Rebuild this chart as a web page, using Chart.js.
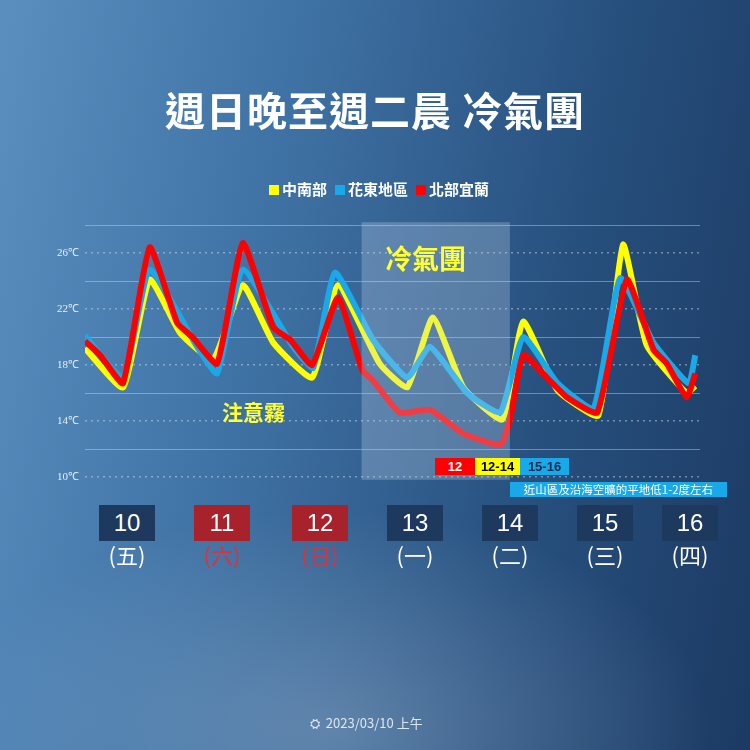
<!DOCTYPE html>
<html><head><meta charset="utf-8">
<script src="https://cdn.jsdelivr.net/npm/chart.js@4"></script>
<style>
body{margin:0;width:750px;height:750px;overflow:hidden;font-family:"Noto Sans CJK TC","Noto Sans",sans-serif;
 background:radial-gradient(ellipse 380px 220px at 330px 730px,rgba(180,198,220,0.35),rgba(180,198,220,0) 100%),
 linear-gradient(100deg,#5a8fc0 0%,#3f72a4 35%,#27507e 70%,#1c3a63 100%);}
#wrap{position:absolute;left:0;top:0;width:750px;height:750px}
.t{position:absolute;color:#fff;white-space:nowrap}
.day{position:absolute;top:505px;width:56px;height:36px;background:#1d3a5e;color:#fff;font:500 24px "Liberation Sans",sans-serif;text-align:center;line-height:36px}
.wk{position:absolute;top:538px;width:70px;text-align:center;color:#fff;font-size:22px}
.leg{display:inline-block;width:10px;height:10px;margin:0 3px 0 8px}
.tag{position:absolute;top:458px;height:17px;font:bold 13px "Liberation Sans",sans-serif;text-align:center;line-height:17px}
</style></head><body>
<div id="wrap"><canvas id="c" width="750" height="750"></canvas></div>
<div class="t" style="left:0;width:750px;top:80px;text-align:center;font-size:40px;font-weight:bold;letter-spacing:1px">週日晚至週二晨 冷氣團</div>
<div class="t" style="left:0;width:750px;top:178px;text-align:center;font-size:15px;font-weight:bold">
<span class="leg" style="background:#ffff00"></span>中南部<span class="leg" style="background:#19a9e8"></span>花東地區<span class="leg" style="background:#ff0000"></span>北部宜蘭</div>
<div class="t" style="left:385px;top:238px;color:#ffff33;font-size:27px;font-weight:bold">冷氣團</div>
<div class="t" style="left:222px;top:396px;color:#ffff33;font-size:21px;font-weight:bold">注意霧</div>
<div class="tag" style="left:435px;width:40px;background:#ff0000;color:#fff">12</div>
<div class="tag" style="left:475px;width:45px;background:#ffff00;color:#000">12-14</div>
<div class="tag" style="left:520px;width:49px;background:#19a9e8;color:#0a2a50">15-16</div>
<div class="t" style="left:510px;top:482px;width:217px;height:15px;background:#19a9e8;font-size:11.5px;line-height:15px;text-align:center">近山區及沿海空曠的平地低1-2度左右</div>
<div id="days"></div>
<div class="t" style="left:310px;top:713px;font-size:13px;color:#dde6f0">⛭ &nbsp;2023/03/10 上午</div>
<script>
const dayNums = ['10','11','12','13','14','15','16'];
const weekdays = ['(五)','(六)','(日)','(一)','(二)','(三)','(四)'];
const holiday = [false,true,true,false,false,false,false];
const dayCenters = [127,222,320,415,510,605,690];

// x in days (10.5 = noon of the 10th), y in °C
const northX = [10.06,10.22,10.46,10.74,11.03,11.19,11.45,11.72,12.04,12.22,12.45,12.72,12.98,13.09,13.37,13.69,14.04,14.43,14.53,14.67,14.92,15.13,15.45,15.76,16.04,16.18,16.39,16.48];
const northY = [19.7,18.7,16.7,26.4,21.0,20.0,18.1,26.7,20.7,19.8,18.0,22.8,17.6,16.9,14.6,14.8,13.1,12.3,14.1,18.7,17.1,15.7,14.6,24.1,19.1,18.1,15.7,17.4];
const southX = [10.06,10.46,10.74,11.06,11.41,11.72,12.04,12.45,12.72,13.16,13.45,13.72,14.04,14.45,14.67,15.03,15.46,15.72,15.97,16.39,16.48];
const southY = [19.2,16.4,24.1,20.3,18.4,23.7,19.6,17.1,23.7,18.1,16.4,21.4,16.4,14.1,21.1,16.2,14.4,26.6,19.4,16.0,16.5];
const eastX = [10.06,10.46,10.74,11.24,11.45,11.72,12.25,12.46,12.69,13.09,13.45,13.69,14.08,14.43,14.67,15.03,15.41,15.69,16.04,16.41,16.48];
const eastY = [20.1,17.1,24.8,19.3,17.4,24.8,19.3,17.8,24.6,19.8,17.1,19.3,16.0,14.6,20.0,16.7,14.9,24.2,19.6,16.7,18.7];

const dd = document.getElementById('days');
dayNums.forEach((d,i)=>{
  dd.innerHTML += `<div class="day" style="left:${dayCenters[i]-28}px;${holiday[i]?'background:#a8222c':''}">${d}</div>`+
   `<div class="wk" style="left:${dayCenters[i]-35}px;${holiday[i]?'color:#e0303a':''}">${weekdays[i]}</div>`;
});

const pts = (xs,ys)=>xs.map((x,i)=>({x:x,y:ys[i]}));
const ds = (label,xs,ys,color,order)=>({label,data:pts(xs,ys),borderColor:color,borderWidth:6,pointRadius:0,tension:0.15,order,fill:false,borderJoinStyle:'round'});

const coldBox = {
  id:'coldBox',
  afterDatasetsDraw(chart){
    const {ctx,scales:{x,y}} = chart;
    const l = x.getPixelForValue(12.97), r = x.getPixelForValue(14.53);
    const t = y.getPixelForValue(28.2), b = y.getPixelForValue(9.8);
    ctx.save();ctx.fillStyle='rgba(200,220,240,0.28)';ctx.fillRect(l,t,r-l,b-t);ctx.restore();
  }
};

new Chart(document.getElementById('c'),{
  type:'line',
  data:{datasets:[
    ds('北部宜蘭',northX,northY,'#ff0000',1),
    ds('花東地區',eastX,eastY,'#19a9e8',2),
    ds('中南部',southX,southY,'#ffff00',3)
  ]},
  options:{
    responsive:false,animation:false,
    layout:{padding:{left:0,right:50,top:225,bottom:273}},
    plugins:{legend:{display:false},tooltip:{enabled:false}},
    scales:{
      x:{type:'linear',min:10.06,max:16.53,display:false},
      y:{min:10,max:28,afterFit(a){a.width=85;},
        afterBuildTicks(a){a.ticks=[10,14,18,22,26].map(v=>({value:v}));},
        ticks:{color:'#e8eef5',font:{size:11,family:'Liberation Serif'},padding:6,callback:v=>v+'℃'},
        grid:{color:'rgba(220,230,240,0.45)',lineWidth:1.5,drawTicks:false},
        border:{display:false,dash:[2,4]}},
      y2:{min:10,max:28,position:'left',display:true,afterFit(a){a.width=0;},
        afterBuildTicks(a){a.ticks=[12,16,20,24,28].map(v=>({value:v}));},
        ticks:{display:false},
        grid:{color:'rgba(220,230,240,0.4)',lineWidth:1,drawTicks:false},border:{display:false}}
    }
  },
  plugins:[coldBox]
});
</script></body></html>
